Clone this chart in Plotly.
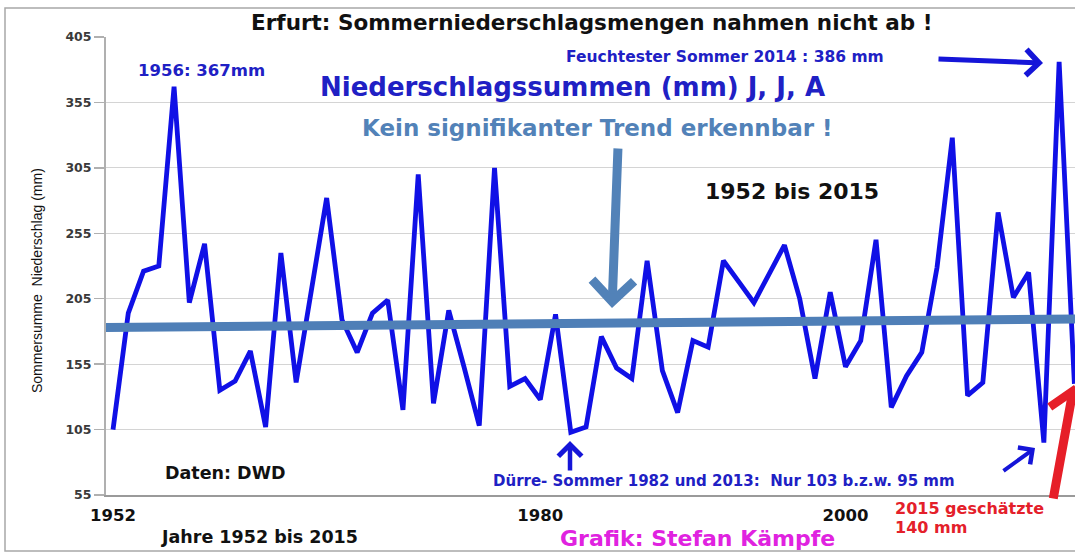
import plotly.graph_objects as go

# ---------------- data ----------------
years = list(range(1952, 2016))
rain_mm = [105, 194, 226, 230, 367, 202, 247, 135, 142, 165,   # 1952-1961
           107, 240, 141, 212, 282, 189, 164, 194, 204, 120,   # 1962-1971
           300, 125, 196, 153, 108, 305, 138, 144, 128, 193,   # 1972-1981
           103, 107, 176, 152, 144, 234, 150, 118, 173, 168,   # 1982-1991
           234, 218, 202, 224, 246, 205, 144, 210, 153, 173,   # 1992-2001
           250, 122, 146, 164, 229, 328, 131, 141, 271, 206,   # 2002-2011
           225, 95, 386, 140]                                  # 2012-2015

trend_years = [1951.5, 2015.1]
trend_mm = [183, 189.5]

x_tick_years = [1952, 1980, 2000]
y_ticks = [55, 105, 155, 205, 255, 305, 355, 405]

# ---------------- geometry helpers (pixel -> paper) ----------------
W, H = 1075, 554
ML, MR, MT, MB = 106, 0, 37, 59
PW, PH = W - ML - MR, H - MT - MB


def xp(px):
    return (px - ML) / PW


def yp(py):
    return (H - MB - py) / PH


FONT = "DejaVu Sans"
BLUE_TXT = "#2020C4"
BLUE_ARROW = "#1515D8"
STEEL = "#5282B8"

fig = go.Figure()

fig.add_trace(go.Scatter(
    x=years, y=rain_mm, mode="lines",
    line=dict(color="#1010E6", width=4.8),
    hoverinfo="skip", showlegend=False))

fig.add_trace(go.Scatter(
    x=trend_years, y=trend_mm, mode="lines",
    line=dict(color="#4F7FB7", width=9),
    hoverinfo="skip", showlegend=False))

ann = []


def text(t, cx, cy, size, color, bold=True, xanchor="center", family=FONT, angle=0):
    ann.append(dict(
        text=f"<b>{t}</b>" if bold else t,
        x=xp(cx), y=yp(cy), xref="paper", yref="paper",
        xanchor=xanchor, yanchor="middle", showarrow=False,
        textangle=angle,
        font=dict(family=family, size=size, color=color)))


def arrow(tip, tail, color, width, size=1.0, head=4):
    ann.append(dict(
        text="", x=xp(tip[0]), y=yp(tip[1]), xref="paper", yref="paper",
        ax=tail[0] - tip[0], ay=tail[1] - tip[1], axref="pixel", ayref="pixel",
        showarrow=True, arrowhead=head, arrowsize=size, arrowwidth=width,
        arrowcolor=color, standoff=0, startstandoff=0))


text("Erfurt: Sommerniederschlagsmengen nahmen nicht ab !", 592, 22, 21.5, "#111111")
text("1956: 367mm", 201, 70, 16.5, BLUE_TXT)
text("Feuchtester Sommer 2014 : 386 mm", 725, 57, 15.5, BLUE_TXT)
text("Niederschlagssummen (mm) J, J, A", 572, 87, 26, BLUE_TXT)
text("Kein signifikanter Trend erkennbar !", 597, 128, 23, STEEL)
text("1952 bis 2015", 792, 192, 22, "#111111")
text("Daten: DWD", 225, 473, 17.5, "#111111")
text("Dürre- Sommer 1982 und 2013:  Nur 103 b.z.w. 95 mm", 724, 481, 15, BLUE_TXT)
text("2015 geschätzte", 893, 508, 16, "#E4202A", xanchor="left")
text("140 mm", 893, 527, 16, "#E4202A", xanchor="left")
text("Grafik: Stefan Kämpfe", 697, 538, 22, "#E022E0")
text("Jahre 1952 bis 2015", 259, 537, 17.5, "#111111")
text("Sommersumme  Niederschlag (mm)", 37, 281, 14, "#111111", bold=False,
     family="Arial, Liberation Sans", angle=-90)

arrow((1043, 63), (937, 59), BLUE_ARROW, 5)
arrow((612, 308), (618, 147), STEEL, 9, size=0.9)
arrow((570, 441), (570, 472), BLUE_ARROW, 4.5)
arrow((1035, 448), (1002, 472), BLUE_ARROW, 4)
arrow((1076, 385), (1053, 500), "#E61E28", 9, size=0.85)

shapes = [dict(type="rect", xref="paper", yref="paper",
               x0=xp(5), x1=xp(1090), y0=yp(551), y1=yp(8),
               line=dict(color="#A8A8A8", width=1.5), layer="below")]

fig.update_layout(
    width=W, height=H,
    margin=dict(l=ML, r=MR, t=MT, b=MB, pad=0),
    paper_bgcolor="white", plot_bgcolor="white",
    annotations=ann, shapes=shapes, showlegend=False,
    xaxis=dict(range=[1951.54, 2015.04], tickvals=x_tick_years,
               ticktext=[f"<b>{y}</b>" for y in x_tick_years],
               tickfont=dict(family=FONT, size=16.5, color="#111111"),
               ticks="outside", ticklen=4, tickcolor="rgba(0,0,0,0)",
               showgrid=False, zeroline=False,
               showline=True, linecolor="#9A9A9A", linewidth=2),
    yaxis=dict(range=[55, 405], tickvals=y_ticks,
               ticktext=[f"<b>{v}</b>" for v in y_ticks],
               tickfont=dict(family=FONT, size=12.5, color="#3A3A3A"),
               ticks="outside", ticklen=10, tickcolor="#B0B0B0", tickwidth=1.5,
               showgrid=True, gridcolor="#D4D4D4", gridwidth=1.2,
               zeroline=False, showline=True, linecolor="#B0B0B0", linewidth=2),
)

fig.write_html("out.html",
               config={"displayModeBar": False, "staticPlot": True},
               post_script="document.body.style.margin='0';"
                           "document.body.style.overflow='hidden';")
